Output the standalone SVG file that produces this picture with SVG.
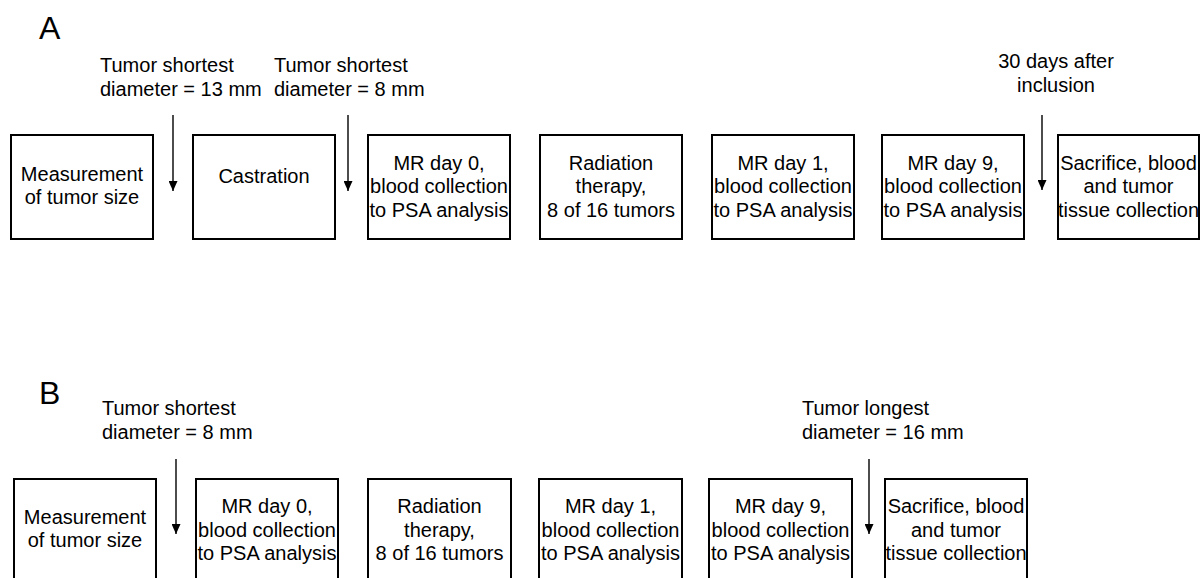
<svg xmlns="http://www.w3.org/2000/svg" width="1202" height="578" viewBox="0 0 1202 578">
<style>
  .box { fill: #ffffff; stroke: #000000; stroke-width: 2; }
  .t { font-family: "Liberation Sans", Arial, sans-serif; font-size: 20px; fill: #000000; }
  .c { text-anchor: middle; }
  .panel { font-family: "Liberation Sans", Arial, sans-serif; font-size: 32px; fill: #000000; }
  .arrow { stroke: #000000; stroke-width: 1.4; fill: none; marker-end: url(#ah); }
</style>
<defs>
  <marker id="ah" viewBox="0 0 10 9" refX="10" refY="4.5" markerWidth="10" markerHeight="9" markerUnits="userSpaceOnUse" orient="auto">
    <path d="M0,0 L10,4.5 L0,9 Z" fill="#000000"/>
  </marker>
</defs>
<rect width="1202" height="578" fill="#ffffff"/>

<text class="panel" x="39" y="39">A</text>
<text class="panel" x="39" y="404">B</text>

<g id="labels">
  <text class="t" x="100" y="72">Tumor shortest</text>
  <text class="t" x="100" y="96">diameter = 13 mm</text>
  <text class="t" x="274" y="72">Tumor shortest</text>
  <text class="t" x="274" y="96">diameter = 8 mm</text>
  <text class="t c" x="1056" y="68">30 days after</text>
  <text class="t c" x="1056" y="92">inclusion</text>
  <text class="t" x="102" y="415">Tumor shortest</text>
  <text class="t" x="102" y="439">diameter = 8 mm</text>
  <text class="t" x="802" y="415">Tumor longest</text>
  <text class="t" x="802" y="439">diameter = 16 mm</text>
</g>

<g id="connectors">
  <line class="arrow" x1="173" y1="115" x2="173" y2="191"/>
  <line class="arrow" x1="348" y1="115" x2="348" y2="191"/>
  <line class="arrow" x1="1042" y1="115" x2="1042" y2="190"/>
  <line class="arrow" x1="176" y1="459" x2="176" y2="534"/>
  <line class="arrow" x1="869" y1="459" x2="869" y2="534"/>
</g>

<g id="A1"><rect class="box" x="11" y="135" width="142" height="104"/>
  <text class="t c" x="82" y="181">Measurement</text><text class="t c" x="82" y="204">of tumor size</text></g>
<g id="A2"><rect class="box" x="193" y="135" width="142" height="104"/>
  <text class="t c" x="264" y="183">Castration</text></g>
<g id="A3"><rect class="box" x="368" y="135" width="142" height="104"/>
  <text class="t c" x="439" y="170">MR day 0,</text><text class="t c" x="439" y="193">blood collection</text><text class="t c" x="439" y="217">to PSA analysis</text></g>
<g id="A4"><rect class="box" x="540" y="135" width="142" height="104"/>
  <text class="t c" x="611" y="170">Radiation</text><text class="t c" x="611" y="193">therapy,</text><text class="t c" x="611" y="217">8 of 16 tumors</text></g>
<g id="A5"><rect class="box" x="712" y="135" width="142" height="104"/>
  <text class="t c" x="783" y="170">MR day 1,</text><text class="t c" x="783" y="193">blood collection</text><text class="t c" x="783" y="217">to PSA analysis</text></g>
<g id="A6"><rect class="box" x="882" y="135" width="142" height="104"/>
  <text class="t c" x="953" y="170">MR day 9,</text><text class="t c" x="953" y="193">blood collection</text><text class="t c" x="953" y="217">to PSA analysis</text></g>
<g id="A7"><rect class="box" x="1058" y="135" width="141" height="104"/>
  <text class="t c" x="1128.5" y="170">Sacrifice, blood</text><text class="t c" x="1128.5" y="193">and tumor</text><text class="t c" x="1128.5" y="217">tissue collection</text></g>

<g id="B1"><rect class="box" x="14" y="479" width="142" height="104"/>
  <text class="t c" x="85" y="524">Measurement</text><text class="t c" x="85" y="547">of tumor size</text></g>
<g id="B2"><rect class="box" x="196" y="479" width="142" height="104"/>
  <text class="t c" x="267" y="513">MR day 0,</text><text class="t c" x="267" y="537">blood collection</text><text class="t c" x="267" y="560">to PSA analysis</text></g>
<g id="B3"><rect class="box" x="368" y="479" width="143" height="104"/>
  <text class="t c" x="439.5" y="513">Radiation</text><text class="t c" x="439.5" y="537">therapy,</text><text class="t c" x="439.5" y="560">8 of 16 tumors</text></g>
<g id="B4"><rect class="box" x="539" y="479" width="143" height="104"/>
  <text class="t c" x="610.5" y="513">MR day 1,</text><text class="t c" x="610.5" y="537">blood collection</text><text class="t c" x="610.5" y="560">to PSA analysis</text></g>
<g id="B5"><rect class="box" x="709" y="479" width="143" height="104"/>
  <text class="t c" x="780.5" y="513">MR day 9,</text><text class="t c" x="780.5" y="537">blood collection</text><text class="t c" x="780.5" y="560">to PSA analysis</text></g>
<g id="B6"><rect class="box" x="885" y="479" width="142" height="104"/>
  <text class="t c" x="956" y="513">Sacrifice, blood</text><text class="t c" x="956" y="537">and tumor</text><text class="t c" x="956" y="560">tissue collection</text></g>
</svg>
